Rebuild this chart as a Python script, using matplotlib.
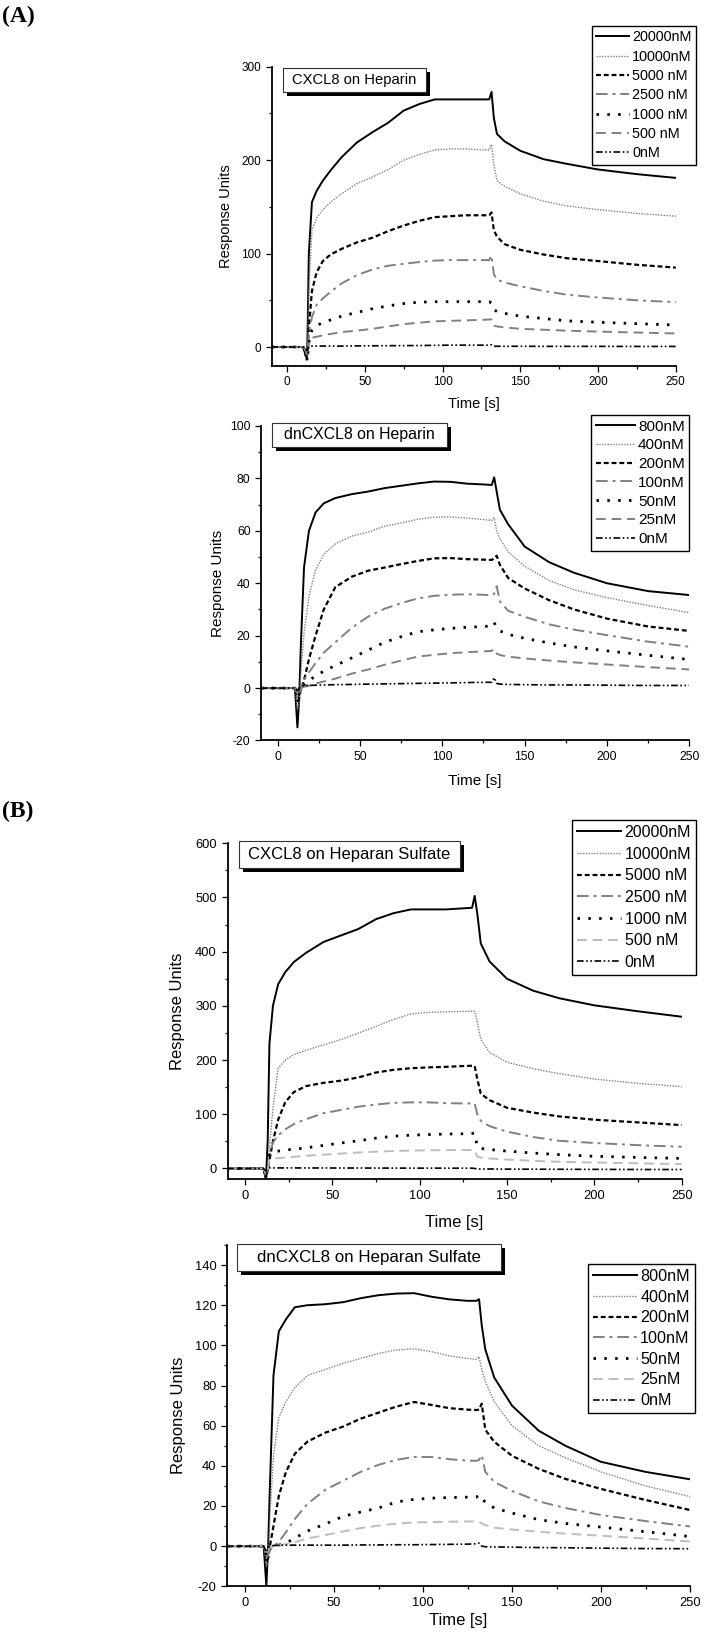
import matplotlib
matplotlib.use('Agg')
import matplotlib.pyplot as plt
from matplotlib.patches import Rectangle
from matplotlib.ticker import MultipleLocator

W, H = 706, 1651
plt.rcParams['font.family'] = ['Liberation Sans', 'DejaVu Sans']
plt.rcParams['axes.unicode_minus'] = False

# ---------------- data ----------------
TIME = [-10, 10.5, 12, 13, 14, 16, 19, 23, 28, 35, 45, 55, 65, 75, 85, 95,
        105, 115, 125, 130, 131.5, 133, 135, 140, 150, 165, 180, 200, 225, 250]

LABELS_CXCL8 = ['20000nM', '10000nM', '5000 nM', '2500 nM', '1000 nM', '500 nM', '0nM']
LABELS_DN = ['800nM', '400nM', '200nM', '100nM', '50nM', '25nM', '0nM']

# Panel A1: CXCL8 on Heparin
A_20000 = [0, 0, -10, -5, 100, 155, 167, 178, 189, 203, 219, 230, 240, 253, 260, 265, 265, 265, 265, 265, 273, 245, 228, 220, 210, 201, 196, 190, 185, 181]
A_10000 = [0, 0, -5, -8, 60, 125, 138, 147, 155, 164, 175, 182, 190, 200, 206, 211, 212, 212, 211, 211, 217, 195, 178, 172, 164, 156, 151, 147, 143, 140]
A_5000 = [0, 0, -8, -12, 20, 60, 80, 92, 99, 105, 112, 117, 124, 130, 135, 139, 140, 141, 141, 141, 144, 125, 118, 110, 104, 99, 95, 92, 88, 85]
A_2500 = [0, 0, -5, -8, 15, 32, 45, 52, 59, 68, 77, 83, 87, 89, 91, 92.5, 93, 93, 93, 93, 98, 78, 72, 69, 65, 60, 56, 53, 50, 48]
A_1000 = [0, 0, -6, -15, 5, 18, 23, 26, 29, 33, 37, 41, 44, 46.5, 48, 48.5, 48.5, 48.5, 48.5, 48.5, 47, 40, 38, 36, 33, 30.5, 28, 26.5, 25, 23.5]
A_500 = [0, 0, -4, -10, 3, 10, 11, 12.5, 14, 16, 17.5, 19.5, 22, 24.5, 26, 27.5, 28, 28.5, 29, 29.5, 29.5, 23, 22, 21, 19.5, 18.5, 17.5, 16.5, 15.5, 14.5]
A_0 = [0, 0, -2, -4, 0.5, 1, 1, 1, 1, 1, 1.2, 1.3, 1.4, 1.5, 1.6, 1.8, 2, 2, 2, 2, 2.5, 0.8, 0.8, 0.8, 0.8, 0.7, 0.7, 0.7, 0.6, 0.6]

# Panel A2: dnCXCL8 on Heparin
B_800 = [0, 0, -15, -5, 15, 46, 60, 67, 70.5, 72.5, 74, 75, 76.3, 77.2, 78.1, 78.8, 78.7, 78, 77.7, 77.5, 80.4, 75, 68, 62.5, 54, 48, 44, 40, 37, 35.5]
B_400 = [0, 0, -8, -6, 5, 21, 35, 45, 51, 55, 58, 59.5, 61.8, 63, 64.4, 65.2, 65.3, 64.9, 64.3, 64, 65, 60, 57, 52, 46.5, 41, 37.5, 34.5, 31.5, 28.8]
B_200 = [0, 0, -5, -4, -1, 3, 11, 20, 30, 38.5, 42.5, 44.8, 46, 47.3, 48.5, 49.5, 49.6, 49.2, 49, 48.9, 49.5, 50.5, 47, 42, 38, 33.5, 30, 26.5, 23.5, 21.8]
B_100 = [0, 0, -4, -3, -1, 3, 6, 9.5, 13.5, 17.5, 23, 27.3, 30.3, 32.4, 34.2, 35.2, 35.6, 35.8, 35.6, 35.4, 36, 38.9, 33, 29.5, 27.2, 24.3, 22.3, 20.2, 17.7, 15.8]
B_50 = [0, 0, -3, -2, 0, 1, 3, 4.5, 6.5, 8.6, 11.5, 14.5, 17.5, 19.6, 21.5, 22.2, 22.8, 23.2, 23.5, 23.7, 25, 23, 21.8, 20.5, 19, 17.2, 15.7, 14.2, 12.5, 10.9]
B_25 = [0, 0, -2, -1, 0, 0.5, 0.9, 1.7, 2.5, 3.6, 5.5, 7.1, 8.9, 10.5, 12, 12.7, 13.3, 13.7, 14, 14.2, 15, 13.2, 12.6, 12, 11.3, 10.5, 9.8, 9, 8, 7.1]
B_0 = [0, 0, -1, 0, 0.5, 1, 1, 1.1, 1.2, 1.3, 1.4, 1.5, 1.6, 1.7, 1.8, 1.9, 2, 2.1, 2.2, 2.2, 4, 1.8, 1.5, 1.4, 1.3, 1.2, 1.2, 1.1, 1, 1]

# Panel B1: CXCL8 on Heparan Sulfate
C_20000 = [0, 0, -20, 50, 230, 300, 340, 362, 381, 398, 418, 430, 442, 460, 471, 478, 478, 478, 480, 481, 503, 470, 415, 382, 350, 328, 314, 301, 290, 280]
C_10000 = [0, 0, -15, -5, 40, 110, 185, 200, 210, 218, 228, 238, 250, 262, 275, 285, 288, 289, 290, 290, 290, 270, 238, 214, 196, 184, 175, 165, 157, 151]
C_5000 = [0, 0, -15, -5, 15, 50, 90, 122, 141, 152, 158, 162, 168, 177, 182, 185, 186.5, 187.5, 189, 189.5, 189, 165, 138, 126, 112, 103, 96, 90, 85, 80]
C_2500 = [0, 0, -15, -5, 20, 48, 61, 72, 82, 91, 102, 108, 114, 118, 121, 122, 122, 120.5, 120, 120, 120, 100, 88, 78, 68, 58, 51, 47, 43, 40]
C_1000 = [0, 0, -15, -5, 25, 31, 32, 34, 35.5, 38, 42.5, 47, 51, 56, 59.5, 61.5, 62.5, 63.5, 64, 64.6, 65, 40, 37, 35, 32, 28.5, 25.5, 22.5, 20.3, 18.5]
C_500 = [0, 0, -10, -3, 15, 18.5, 19, 20, 21.5, 23.5, 25.5, 27.5, 29.5, 31, 32.2, 33, 33.5, 33.8, 34, 34, 33, 22, 20, 18.5, 16.5, 14, 12.3, 11, 9.5, 8]
C_0 = [0, 0, -5, 0, 1, 1, 1, 1, 1, 0.9, 0.9, 0.8, 0.8, 0.7, 0.7, 0.6, 0.6, 0.5, 0.5, 0.5, 0, -1, -1, -1, -1.2, -1.4, -1.5, -1.7, -1.9, -2]

# Panel B2: dnCXCL8 on Heparan Sulfate
D_800 = [0, 0, -20, 0, 30, 85, 107, 113, 119, 120, 120.5, 121.5, 123.5, 125, 125.8, 126, 124.2, 122.9, 122.2, 122.2, 123, 110, 98, 84, 70, 57.5, 50, 42, 37, 33.3]
D_400 = [0, 0, -10, -8, 15, 45, 64, 72, 79, 85, 88, 91, 93.5, 96, 97.7, 98.3, 96.8, 94.7, 93.5, 93, 94.4, 88, 82, 72, 60, 50, 44, 37, 30, 24.7]
D_200 = [0, 0, -8, -6, 0, 10, 25, 37, 46, 52, 56.5, 59.5, 63.5, 66.5, 69.5, 71.8, 70.3, 68.7, 68, 67.8, 68, 71, 58, 52, 45, 38.5, 33.5, 28.5, 23, 18]
D_100 = [0, 0, -6, -4, -2, 0, 2, 7, 13.5, 21, 28, 32.5, 37, 40.5, 43, 44.4, 44.4, 43.3, 42.6, 42.5, 43, 45.4, 37, 32, 27.5, 22.3, 19, 15.5, 12.5, 9.8]
D_50 = [0, 0, -5, -3, -1, 0, 0.5, 1.5, 4, 7.5, 11, 14.8, 17, 19, 22, 23.3, 23.9, 24.2, 24.4, 24.4, 25.5, 23.5, 22, 19, 16.5, 13.2, 11.3, 9.5, 7.2, 4.8]
D_25 = [0, 0, -4, -2, -1, 0, 0.5, 1, 2, 3.8, 5.5, 7.3, 9, 10.2, 11.2, 11.8, 12, 12.2, 12.3, 12.3, 12, 11.4, 10.5, 9.2, 8.3, 7.2, 6.2, 5.2, 3.8, 2.3]
D_0 = [0, 0, -3, -1, 0, 0.3, 0.4, 0.5, 0.5, 0.5, 0.5, 0.5, 0.6, 0.6, 0.7, 0.7, 0.8, 0.9, 1.0, 1.2, 1.5, 0, -0.3, -0.4, -0.5, -0.7, -0.8, -1.0, -1.2, -1.3]

TITLES = ['CXCL8 on Heparin', 'dnCXCL8 on Heparin',
          'CXCL8 on Heparan Sulfate', 'dnCXCL8 on Heparan Sulfate']

# ---------------- styling ----------------
def styles(light):
    g2 = '#bdbdbd' if light else '#808080'
    return [
        dict(color='black', lw=1.4, ls='-'),
        dict(color='#808080', lw=1.0, ls=(0, (1, 1))),
        dict(color='black', lw=1.6, ls=(0, (2.2, 1.3))),
        dict(color='#808080', lw=1.4, ls=(0, (6, 2.5, 1.5, 2.5))),
        dict(color='black', lw=2.0, ls=(0, (0.9, 3))),
        dict(color=g2, lw=1.4, ls=(0, (5, 3))),
        dict(color='black', lw=1.2, ls=(0, (4, 1.5, 1, 1.5, 1, 1.5))),
    ]

panels = [
    dict(series=[A_20000, A_10000, A_5000, A_2500, A_1000, A_500, A_0], labels=LABELS_CXCL8,
         ax=(271.5, 675.8, 66.7, 365.7), ylim=(-20, 300), ymaj=100, ymin=50,
         tick_fs=8.5, lab_fs=10.5, leg_fs=10.4, leg=(696, 26), hl=2.3, lsp=0.37,
         box=(283, 426, 68, 92), box_fs=10.6, ylc=-0.095, xlc=-0.105, light=False),
    dict(series=[B_800, B_400, B_200, B_100, B_50, B_25, B_0], labels=LABELS_DN,
         ax=(261.2, 689.3, 426, 740.5), ylim=(-20, 100), ymaj=20, ymin=10,
         tick_fs=8.8, lab_fs=11.0, leg_fs=11.0, leg=(689.3, 415), hl=2.55, lsp=0.31,
         box=(271.5, 446.6, 423, 447), box_fs=11.4, ylc=-0.085, xlc=-0.107, light=False),
    dict(series=[C_20000, C_10000, C_5000, C_2500, C_1000, C_500, C_0], labels=LABELS_CXCL8,
         ax=(227.5, 681.7, 843.3, 1179.3), ylim=(-20, 600), ymaj=100, ymin=50,
         tick_fs=9.3, lab_fs=12.0, leg_fs=11.5, leg=(696, 820), hl=2.8, lsp=0.42,
         box=(238.6, 459.7, 841, 868), box_fs=12.0, ylc=-0.0925, xlc=-0.106, light=True),
    dict(series=[D_800, D_400, D_200, D_100, D_50, D_25, D_0], labels=LABELS_DN,
         ax=(227.2, 690, 1245, 1586.3), ylim=(-20, 150), ymaj=20, ymin=10,
         tick_fs=9.3, lab_fs=12.0, leg_fs=11.6, leg=(694.7, 1264), hl=2.73, lsp=0.355,
         box=(237.3, 501.1, 1244, 1271), box_fs=12.2, ylc=-0.090, xlc=-0.078, light=True),
]

fig = plt.figure(figsize=(W / 100, H / 100), dpi=100)

for i, p in enumerate(panels):
    l, r, t, b = p['ax']
    ax = fig.add_axes([l / W, 1 - b / H, (r - l) / W, (b - t) / H])
    st = styles(p['light'])
    handles = []
    for ys, s, lab in zip(p['series'], st, p['labels']):
        h, = ax.plot(TIME, ys, color=s['color'], lw=s['lw'], ls=s['ls'], label=lab)
        handles.append(h)
    ax.set_xlim(-10, 250)
    ax.set_ylim(*p['ylim'])
    ax.xaxis.set_major_locator(MultipleLocator(50))
    ax.xaxis.set_minor_locator(MultipleLocator(25))
    ax.yaxis.set_major_locator(MultipleLocator(p['ymaj']))
    ax.yaxis.set_minor_locator(MultipleLocator(p['ymin']))
    for side in ('top', 'right'):
        ax.spines[side].set_visible(False)
    for side in ('left', 'bottom'):
        ax.spines[side].set_linewidth(1.3)
    ax.tick_params(which='major', direction='out', length=4.2, width=0.9,
                   labelsize=p['tick_fs'], pad=3.5)
    ax.tick_params(which='minor', direction='out', length=2.5, width=0.9)
    ax.set_xlabel('Time [s]', fontsize=p['lab_fs'])
    ax.set_ylabel('Response Units', fontsize=p['lab_fs'])
    ax.yaxis.set_label_coords(p['ylc'], 0.5)
    ax.xaxis.set_label_coords(0.5, p['xlc'])

    lx, ly = p['leg']
    leg = ax.legend(handles=handles, loc='upper right', bbox_to_anchor=(lx / W, 1 - ly / H),
                    bbox_transform=fig.transFigure, borderaxespad=0, fancybox=False,
                    framealpha=1, edgecolor='black', fontsize=p['leg_fs'],
                    handlelength=p['hl'], handletextpad=0.2, labelspacing=p['lsp'],
                    borderpad=0.3)
    leg.get_frame().set_linewidth(1.0)

    bx0, bx1, by0, by1 = p['box']
    off = 4
    fig.add_artist(Rectangle(((bx0 + off) / W, 1 - (by1 + off) / H), (bx1 - bx0) / W, (by1 - by0) / H,
                             transform=fig.transFigure, facecolor='black', edgecolor='black', lw=0))
    fig.add_artist(Rectangle((bx0 / W, 1 - by1 / H), (bx1 - bx0) / W, (by1 - by0) / H,
                             transform=fig.transFigure, facecolor='white', edgecolor='#333333', lw=0.8))
    fig.text((bx0 + bx1) / 2 / W, 1 - (by0 + by1) / 2 / H, TITLES[i], fontsize=p['box_fs'],
             ha='center', va='center')

fig.text(2 / W, 1 - 16 / H, '(A)', fontsize=17, fontweight='bold',
         family=['Liberation Serif', 'DejaVu Serif'], ha='left', va='center')
fig.text(2 / W, 1 - 811 / H, '(B)', fontsize=17, fontweight='bold',
         family=['Liberation Serif', 'DejaVu Serif'], ha='left', va='center')

fig.savefig('out.png', dpi=100)
